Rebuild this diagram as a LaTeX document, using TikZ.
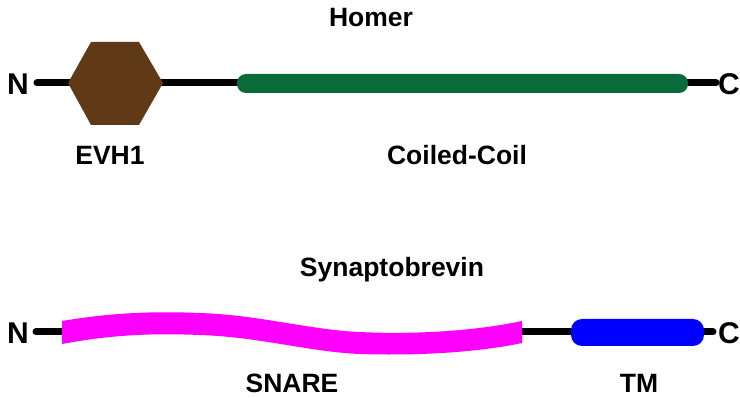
\documentclass[tikz,border=0pt]{standalone}
\usepackage{fontspec}
\setmainfont{Liberation Sans}
\definecolor{evhbrown}{HTML}{603A16}
\definecolor{ccgreen}{HTML}{0A6B3A}
\definecolor{snaremag}{HTML}{FF00FF}
\definecolor{tmblue}{HTML}{0000FF}
\begin{document}
\begin{tikzpicture}[x=1pt,y=-1pt,
  lbl/.style={font=\fontsize{26.5}{28}\selectfont\bfseries, inner sep=0pt},
  term/.style={font=\fontsize{30}{32}\selectfont\bfseries, inner sep=0pt},
  backbone/.style={line width=7pt, line cap=round, black}]
\useasboundingbox (0,0) rectangle (740,398);
% Homer
\node[lbl] (homer) at (371,18) {Homer};
\node[term] (n1) at (18,84) {N};
\node[term] (c1) at (729,84) {C};
\coordinate (l1s) at (37,83);
\coordinate (l1e) at (716,83);
\draw[backbone] (l1s) -- (l1e);
\fill[evhbrown] (68,83) -- (91,42) -- (139,42) -- (163,83) -- (139,125) -- (91,125) -- cycle;
\fill[ccgreen, rounded corners=9pt] (237,74) rectangle (688,93);
\node[lbl] (evhl) at (110,155) {EVH1};
\node[lbl] (ccl) at (457,155) {Coiled-Coil};
% Synaptobrevin
\node[lbl] (syb) at (392,270) {Synaptobrevin};
\node[term] (n2) at (18,333) {N};
\node[term] (c2) at (729,333) {C};
\coordinate (l2s) at (36,332);
\coordinate (sna) at (64,332);
\coordinate (snb) at (520,332);
\coordinate (l2e) at (713,332);
\draw[backbone] (l2s) -- (sna);
\draw[backbone] (snb) -- (l2e);
\fill[snaremag] (62,321) .. controls (110,313) and (150,311) .. (200,313)
  .. controls (260,315) and (310,330) .. (360,332)
  .. controls (420,335) and (480,330) .. (522,321)
  -- (522,343)
  .. controls (480,352) and (420,356) .. (360,354)
  .. controls (310,352) and (260,337) .. (200,335)
  .. controls (150,333) and (110,335) .. (62,344) -- cycle;
\fill[tmblue, rounded corners=11pt] (571,319) rectangle (704,346);
\node[lbl] (snl) at (292,383) {SNARE};
\node[lbl] (tml) at (639,383) {TM};
\end{tikzpicture}
\end{document}
